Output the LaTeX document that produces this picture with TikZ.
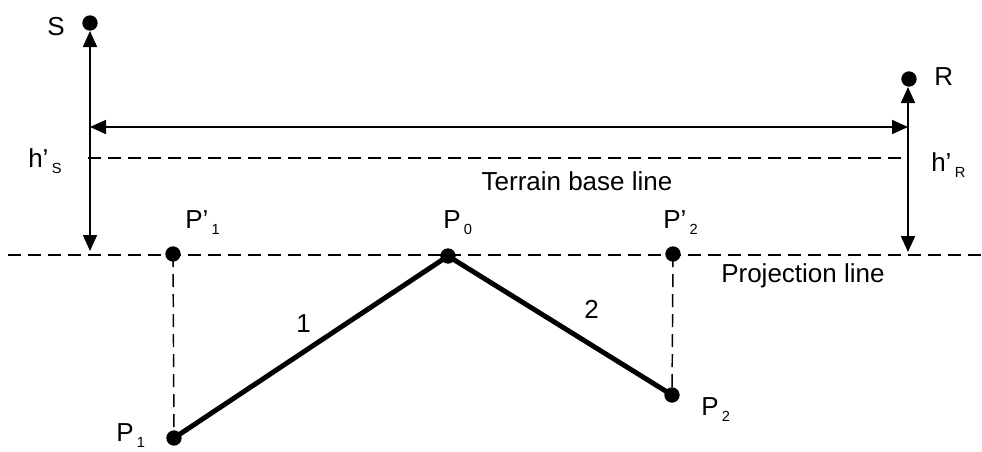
\documentclass[tikz,border=0pt]{standalone}
\usepackage{fontspec}
\setmainfont{Liberation Sans}
\usetikzlibrary{arrows.meta}
\newcommand\lblsub[1]{\hspace{2.5pt}\raisebox{-5pt}{\fontsize{11}{12}\selectfont #1}}
\begin{document}
\begin{tikzpicture}[x=0.75pt,y=-0.75pt,
  dot/.style={circle,fill=black,inner sep=0pt,minimum size=11.5pt},
  lbl/.style={anchor=base west,inner sep=0pt,font=\fontsize{19.5}{22}\selectfont},
  ctrlbl/.style={anchor=base,inner sep=0pt,font=\fontsize{19.5}{22}\selectfont},
  dim/.style={line width=1.3pt,{Triangle[length=12pt,width=10.5pt]}-{Triangle[length=12pt,width=10.5pt]}},
  dsh/.style={line width=1.1pt,dash pattern=on 9.75pt off 5.25pt},
  seg/.style={line width=3.7pt,line cap=round}]
\useasboundingbox (0,0) rectangle (982,451);

% points
\node[dot] (S)   at (90,23)  {};
\node[dot] (R)   at (909,79) {};
\node[dot] (Pp1) at (173,254) {};
\node[dot] (P0)  at (448,256) {};
\node[dot] (Pp2) at (673,254) {};
\node[dot] (P1)  at (174,438) {};
\node[dot] (P2)  at (672,395) {};

% helper coordinates
\coordinate (projL) at (8,255);
\coordinate (projR) at (982,255);
\coordinate (terL) at (88,158);
\coordinate (terR) at (908,158);
\coordinate (sTop) at (90,31);
\coordinate (sBot) at (90,251);
\coordinate (rTop) at (908,87);
\coordinate (rBot) at (908,252);
\coordinate (hL) at (90,127);
\coordinate (hR) at (908,127);

% dashed lines
\draw[dsh] (projL) -- (projR);
\draw[dsh] (terL) -- (terR);
\draw[dsh] (Pp1.center) -- (P1.center);
\draw[dsh] (Pp2.center) -- (P2.center);

% dimension arrows
\draw[dim] (sTop) -- (sBot);
\draw[dim] (rTop) -- (rBot);
\draw[dim] (hL) -- (hR);

% terrain segments
\draw[seg] (P1.center) -- (P0.center) -- (P2.center);

% labels
\node[lbl] (lS) at (47,35) {S};
\node[lbl] (lR) at (934,85) {R};
\node[lbl] (lhS) at (28,167) {h’\lblsub{S}};
\node[lbl] (lhR) at (931,171) {h’\lblsub{R}};
\node[lbl] (lPp1) at (185,228) {P’\lblsub{1}};
\node[lbl] (lP0) at (443,228) {P\lblsub{0}};
\node[lbl] (lPp2) at (663,228) {P’\lblsub{2}};
\node[lbl] (lP1) at (116,441) {P\lblsub{1}};
\node[lbl] (lP2) at (701,415) {P\lblsub{2}};
\node[lbl] (l1) at (296,332) {1};
\node[lbl] (l2) at (584,318) {2};
\node[ctrlbl] (lter) at (577,190) {Terrain base line};
\node[lbl] (lproj) at (721,282) {Projection line};
\end{tikzpicture}
\end{document}
